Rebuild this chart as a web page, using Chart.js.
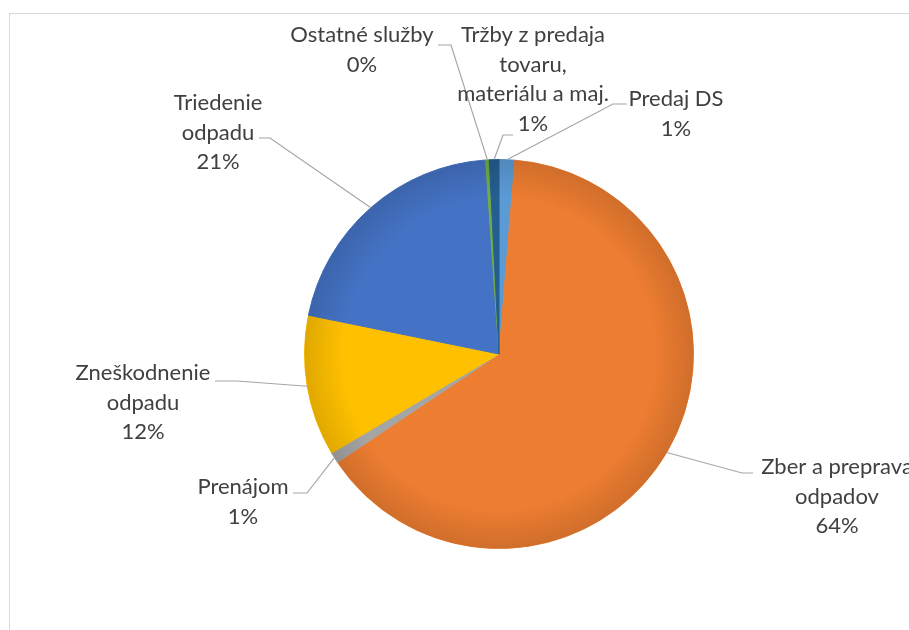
<!DOCTYPE html>
<html>
<head>
<meta charset="utf-8">
<script src="https://cdn.jsdelivr.net/npm/chart.js@4.4.0/dist/chart.umd.min.js"></script>
<style>
html, body { margin: 0; padding: 0; background: #fff; overflow: hidden; }
#frame { position: absolute; left: 9px; top: 13px; width: 1000px; height: 1000px; border: 1px solid #d9d9d9; }
#pie { position: absolute; left: 0; top: 0; }
</style>
</head>
<body>
<div id="frame"></div>
<canvas id="pie" width="909" height="630"></canvas>
<script>
// slices in drawing order, clockwise from 12 o'clock
const categories = [
    ["Predaj DS"],
    ["Zber a preprava", "odpadov"],
    ["Prenájom"],
    ["Zneškodnenie", "odpadu"],
    ["Triedenie", "odpadu"],
    ["Ostatné služby"],
    ["Tržby z predaja", "tovaru,", "materiálu a maj."]
];
const shares = [1.3, 64.3, 0.9, 11.7, 20.7, 0.3, 0.8];
const sliceColors = ["#5B9BD5", "#ED7D31", "#A5A5A5", "#FFC000", "#4472C4", "#70AD47", "#255E91"];

// where each data label sits (centre x, first line y) and its leader line elbow / end
const labelLayout = [
    { x: 676, y: 99, elbow: [613, 104], end: [627, 104] },
    { x: 837, y: 467, elbow: [742, 473], end: [753, 473] },
    { x: 243, y: 487, elbow: [307, 493], end: [293, 493] },
    { x: 143, y: 373, elbow: [237, 381], end: [215, 381] },
    { x: 218, y: 103, elbow: [270, 138], end: [259, 138] },
    { x: 362, y: 35, elbow: [451, 45], end: [438, 45] },
    { x: 533, y: 35, elbow: [503, 135], end: [513, 135] }
];
const lineHeight = 29.5;

// soft darkening toward the rim, like the bevelled Excel pie
const rimShade = {
    id: "rimShade",
    afterDatasetsDraw(chart) {
        const arc = chart.getDatasetMeta(0).data[0];
        if (!arc) return;
        const p = arc.getProps(["x", "y", "outerRadius"], true);
        const ctx = chart.ctx;
        const g = ctx.createRadialGradient(p.x, p.y, p.outerRadius * 0.8, p.x, p.y, p.outerRadius);
        g.addColorStop(0, "rgba(0,0,0,0)");
        g.addColorStop(1, "rgba(0,0,0,0.12)");
        ctx.save();
        ctx.fillStyle = g;
        ctx.beginPath();
        ctx.arc(p.x, p.y, p.outerRadius, 0, Math.PI * 2);
        ctx.fill();
        ctx.restore();
    }
};

const pieLabels = {
    id: "pieLabels",
    afterDatasetsDraw(chart) {
        const ctx = chart.ctx;
        const arcs = chart.getDatasetMeta(0).data;
        const data = chart.data.datasets[0].data;
        const total = data.reduce((a, b) => a + b, 0);
        ctx.save();
        arcs.forEach((arc, i) => {
            const p = arc.getProps(["x", "y", "startAngle", "endAngle", "outerRadius"], true);
            const mid = (p.startAngle + p.endAngle) / 2;
            const ax = p.x + Math.cos(mid) * p.outerRadius;
            const ay = p.y + Math.sin(mid) * p.outerRadius;
            const lay = labelLayout[i];

            ctx.strokeStyle = "#a6a6a6";
            ctx.lineWidth = 1.2;
            ctx.beginPath();
            ctx.moveTo(ax, ay);
            ctx.lineTo(lay.elbow[0], lay.elbow[1]);
            ctx.lineTo(lay.end[0], lay.end[1]);
            ctx.stroke();

            const lines = categories[i].concat([Math.round(data[i] / total * 100) + "%"]);
            ctx.fillStyle = "#404040";
            ctx.font = "22px Lato";
            ctx.textAlign = "center";
            ctx.textBaseline = "middle";
            lines.forEach((t, k) => ctx.fillText(t, lay.x, lay.y + k * lineHeight));
        });
        ctx.restore();
    }
};

new Chart(document.getElementById("pie"), {
    type: "pie",
    data: {
        labels: categories,
        datasets: [{
            data: shares,
            backgroundColor: sliceColors,
            borderColor: sliceColors,
            borderWidth: 1
        }]
    },
    options: {
        responsive: false,
        animation: false,
        layout: { padding: { top: 159, bottom: 81, left: 304, right: 215 } },
        plugins: {
            legend: { display: false },
            tooltip: { enabled: false }
        }
    },
    plugins: [rimShade, pieLabels]
});
</script>
</body>
</html>
